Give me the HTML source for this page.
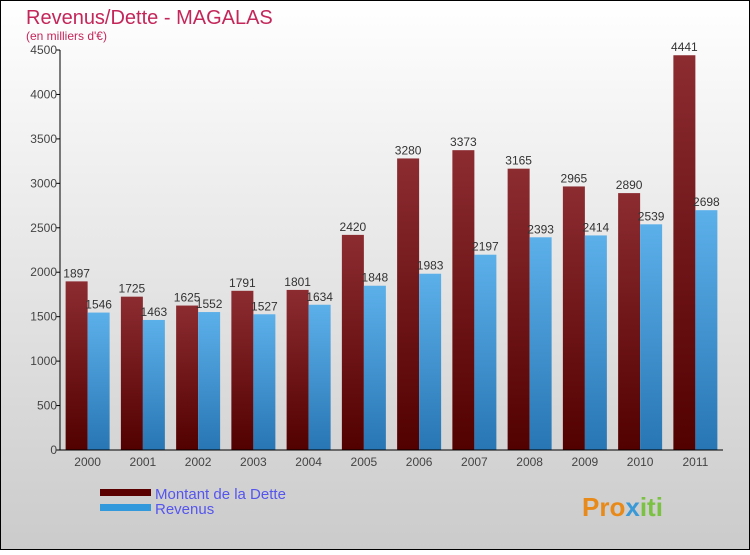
<!DOCTYPE html>
<html><head><meta charset="utf-8"><style>
html,body{margin:0;padding:0}
body{width:750px;height:550px;overflow:hidden;font-family:"Liberation Sans",sans-serif}
</style></head><body>
<svg id="chart" width="750" height="550" xmlns="http://www.w3.org/2000/svg">
<defs>
<linearGradient id="bg" x1="0" y1="0" x2="0" y2="1"><stop offset="0" stop-color="#ffffff"/><stop offset="1" stop-color="#cbcbcb"/></linearGradient>
<linearGradient id="gd" x1="0" y1="0" x2="0" y2="1"><stop offset="0" stop-color="#8c2c31"/><stop offset="1" stop-color="#520000"/></linearGradient>
<linearGradient id="gr" x1="0" y1="0" x2="0" y2="1"><stop offset="0" stop-color="#5cb0ea"/><stop offset="1" stop-color="#2876b4"/></linearGradient>
</defs>
<rect x="0.5" y="0.5" width="749" height="549" fill="url(#bg)" stroke="#000"/>
<text x="26" y="24" font-size="20" fill="#c4265a">Revenus/Dette - MAGALAS</text>
<text x="26" y="40" font-size="12" fill="#c4265a">(en milliers d'€)</text>
<g id="plot"></g>
<rect x="100" y="489" width="51" height="7" fill="#5a0000"/>
<rect x="100" y="504" width="51" height="7" fill="#3399dd"/>
<text x="155" y="499" font-size="15" fill="#5555ee">Montant de la Dette</text>
<text x="155" y="514" font-size="15" fill="#5555ee">Revenus</text>
<text x="582" y="516" font-size="26" font-weight="bold" fill="#e88a1a">Pro<tspan fill="#3a9ad8">x</tspan><tspan fill="#7cc242">iti</tspan></text>
</svg>
<script>
const categories=["2000","2001","2002","2003","2004","2005","2006","2007","2008","2009","2010","2011"];
const dette=[1897,1725,1625,1791,1801,2420,3280,3373,3165,2965,2890,4441];
const revenus=[1546,1463,1552,1527,1634,1848,1983,2197,2393,2414,2539,2698];
const ticks=[0,500,1000,1500,2000,2500,3000,3500,4000,4500];
const NS="http://www.w3.org/2000/svg";
const g=document.getElementById('plot');
const X0=60,X1=723,Y0=450,Y1=50,MAX=4500;
const band=(X1-X0)/categories.length;
const y=v=>Y0-(v/MAX)*(Y0-Y1);
const cx=i=>X0+band*(i+0.5);
function mk(t,a){const e=document.createElementNS(NS,t);for(const k in a)e.setAttribute(k,a[k]);g.appendChild(e);return e;}
ticks.forEach(t=>{
  const l=mk('line',{x1:X0-4,x2:X0,y1:y(t),y2:y(t),stroke:'#000'});
  
  
  const tx=mk('text',{x:X0-3,y:y(t)+4,'text-anchor':'end','font-size':12,fill:'#444'});
  tx.textContent=t;
  
  
});
categories.forEach((c,i)=>{
  const bw=22;
  const d=mk('rect',{x:cx(i)-bw,y:y(dette[i]),width:bw,height:Y0-y(dette[i]),fill:'url(#gd)'});
  
  
  const r=mk('rect',{x:cx(i),y:y(revenus[i]),width:bw,height:Y0-y(revenus[i]),fill:'url(#gr)'});
  
  
  const dl=mk('text',{x:cx(i)-bw/2,y:y(dette[i])-4,'text-anchor':'middle','font-size':12,fill:'#333'});
  dl.textContent=dette[i];
  
  
  const rl=mk('text',{x:cx(i)+bw/2,y:y(revenus[i])-4,'text-anchor':'middle','font-size':12,fill:'#333'});
  rl.textContent=revenus[i];
  
  
  const xl=mk('text',{x:cx(i),y:Y0+16,'text-anchor':'middle','font-size':12,fill:'#444'});
  xl.textContent=c;
  
  
});
const ya=mk('line',{x1:X0,x2:X0,y1:Y1,y2:Y0,stroke:'#000'});


const xa=mk('line',{x1:X0,x2:X1,y1:Y0,y2:Y0,stroke:'#000'});


</script>
</body></html>
